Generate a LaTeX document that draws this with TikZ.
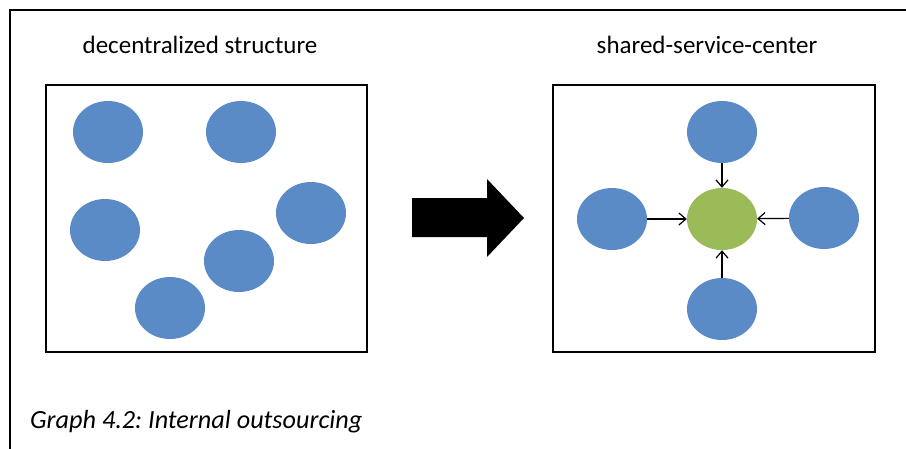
\documentclass[tikz,border=0pt]{standalone}
\usepackage{fontspec}
\setmainfont{Carlito}
\usetikzlibrary{shapes.geometric,arrows.meta}
\definecolor{unitblue}{HTML}{5B8BC6}
\definecolor{centergreen}{HTML}{9BBB59}
\tikzset{
  >={Straight Barb[length=7pt,width=12pt]},
  unit/.style={ellipse,fill=unitblue,minimum width=70pt,minimum height=62pt,inner sep=0pt},
  hub/.style={unit,fill=centergreen},
  panel/.style={draw,line width=2.4pt},
  heading/.style={anchor=base,font=\fontsize{25}{29}\selectfont}
}
\frenchspacing
\begin{document}
\begin{tikzpicture}[x=1pt,y=-1pt]
    \useasboundingbox (0,0) rectangle (906,448);
    \draw[line width=2.4pt] (10,450) -- (10,10) -- (908,10);
    \node[heading] (t_1) at (200,53) {decentralized structure};
    \node[heading] (t_2) at (707,53) {shared-service-center};
    \draw[panel] (46,85) rectangle (367,352);
    \draw[panel] (553,85) rectangle (875,352);
    % left: scattered units
    \node[unit] (d_1) at (108,132) {};
    \node[unit] (d_2) at (241,132) {};
    \node[unit] (d_3) at (105,230) {};
    \node[unit] (d_4) at (311,213) {};
    \node[unit] (d_5) at (239,261) {};
    \node[unit] (d_6) at (170,308) {};
    % transition arrow
    \fill (412,198) -- (487,198) -- (487,179) -- (524,218) -- (487,257) -- (487,237) -- (412,237) -- cycle;
    % right: units around the center
    \node[hub] (c) at (722,219) {};
    \node[unit] (s_1) at (722,132) {};
    \node[unit] (s_2) at (612,219) {};
    \node[unit] (s_3) at (824,218) {};
    \node[unit] (s_4) at (722,309) {};
    \draw[->,line width=1.2pt] (s_1) -- (c);
    \draw[->,line width=1.2pt] (s_2) -- (c);
    \draw[->,line width=1.2pt] (s_3) -- (c);
    \draw[->,line width=1.2pt] (s_4) -- (c);
    \node[anchor=base west,inner sep=0pt,font=\fontsize{26.2}{30}\selectfont\itshape] (cap) at (30,428) {Graph 4.2: Internal outsourcing};
\end{tikzpicture}
\end{document}
